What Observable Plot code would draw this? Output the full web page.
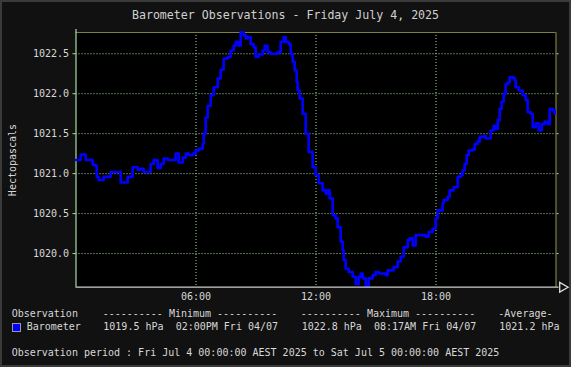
<!DOCTYPE html>
<html>
<head>
<meta charset="utf-8">
<script src="https://cdn.jsdelivr.net/npm/d3@7"></script>
<script src="https://cdn.jsdelivr.net/npm/@observablehq/plot@0.6"></script>
<style>
  html, body { margin: 0; padding: 0; background: #111; }
  #wrap { position: relative; width: 571px; height: 367px; background: #111;
          box-shadow: inset 0 0 0 2px #3a3a3a; overflow: hidden;
          font-family: "DejaVu Sans Mono", monospace; color: #d8d8d8; }
  #wrap svg { position: absolute; left: 0; top: 0; }
  .t { position: absolute; white-space: pre; font-size: 10px; line-height: 12px; }
  #title { position: absolute; left: 0; width: 571px; text-align: center; top: 8px;
           font-size: 11.6px; line-height: 14px; color: #d0d0d0; white-space: pre; font-weight: 500; }
  #ylab { position: absolute; left: 13.3px; top: 159.5px; font-size: 10px; line-height: 12px;
          transform: translate(-50%, -50%) rotate(-90deg); white-space: pre; }
  #swatch { position: absolute; left: 12px; top: 322.5px; width: 7px; height: 7px;
            background: #0000ff; border: 1px solid #9a9a9a; }
</style>
</head>
<body>
<div id="wrap"></div>
<script>
// ---- data (minutes since midnight, hPa) ----
const minutes = [0,14,29,44,50,59,62,68,83,104,128,134,149,155,170,185,194,203,218,224,233,245,254,263,275,284,299,308,320,329,338,350,359,368,380,383,389,395,404,413,425,434,443,455,464,473,479,488,494,503,509,515,524,533,539,548,560,566,575,584,593,605,614,623,629,638,644,650,656,662,665,671,680,689,698,710,719,728,740,749,755,761,770,779,785,794,800,803,809,818,830,839,848,854,860,869,878,890,899,908,920,929,935,944,953,965,974,983,995,1001,1010,1019,1028,1040,1049,1058,1070,1079,1085,1094,1100,1103,1115,1121,1133,1145,1154,1160,1166,1172,1178,1190,1196,1205,1211,1223,1229,1238,1244,1253,1259,1265,1271,1277,1283,1289,1295,1301,1310,1316,1319,1328,1340,1349,1355,1364,1370,1379,1388,1397,1406,1415,1421,1430,1436];
const pressure = [1021.17,1021.24,1021.17,1021.17,1021.11,1021.10,1020.96,1020.92,1020.96,1021.02,1021.02,1020.89,1020.89,1020.96,1021.08,1021.05,1021.06,1021.02,1021.02,1021.12,1021.17,1021.07,1021.12,1021.19,1021.17,1021.17,1021.25,1021.14,1021.20,1021.25,1021.23,1021.25,1021.29,1021.31,1021.37,1021.50,1021.70,1021.85,1021.98,1022.08,1022.19,1022.30,1022.44,1022.46,1022.54,1022.60,1022.65,1022.60,1022.77,1022.73,1022.69,1022.71,1022.62,1022.58,1022.46,1022.49,1022.54,1022.60,1022.52,1022.50,1022.50,1022.52,1022.65,1022.71,1022.65,1022.62,1022.50,1022.40,1022.29,1022.15,1022.04,1021.94,1021.75,1021.50,1021.27,1021.08,1020.98,1020.88,1020.79,1020.75,1020.79,1020.69,1020.48,1020.44,1020.33,1020.15,1020.04,1019.92,1019.81,1019.77,1019.71,1019.62,1019.71,1019.75,1019.69,1019.59,1019.69,1019.73,1019.77,1019.75,1019.75,1019.73,1019.79,1019.79,1019.83,1019.90,1019.96,1020.08,1020.17,1020.19,1020.10,1020.23,1020.23,1020.23,1020.21,1020.27,1020.31,1020.44,1020.54,1020.54,1020.63,1020.67,1020.71,1020.79,1020.83,1020.96,1020.98,1021.04,1021.12,1021.23,1021.29,1021.30,1021.37,1021.40,1021.46,1021.47,1021.44,1021.44,1021.54,1021.60,1021.56,1021.67,1021.81,1021.90,1022.00,1022.12,1022.14,1022.21,1022.20,1022.17,1022.08,1022.04,1021.98,1021.92,1021.77,1021.75,1021.58,1021.63,1021.54,1021.62,1021.65,1021.62,1021.81,1021.79,1021.75];

const xTickValues = [360, 720, 1080];
const xTickLabels = ["06:00", "12:00", "18:00"];
const yTickValues = [1020.0, 1020.5, 1021.0, 1021.5, 1022.0, 1022.5];
const xDomain = [0, 1440];
const yDomain = [1019.579, 1022.766];

const titleText = "Barometer Observations - Friday July 4, 2025";
const yLabelText = "Hectopascals";
const seriesName = "Barometer";
const headerLabels = ["Observation", "---------- Minimum ----------", "---------- Maximum ----------", "-Average-"];
const minValue = "1019.5 hPa", minTime = "02:00PM Fri 04/07";
const maxValue = "1022.8 hPa", maxTime = "08:17AM Fri 04/07";
const avgValue = "1021.2 hPa";
const periodText = "Observation period : Fri Jul 4 00:00:00 AEST 2025 to Sat Jul 5 00:00:00 AEST 2025";

const data = minutes.map((t, i) => ({t, p: pressure[i]}));

const green = "#a8dca0";
const olive = "#7f8040";
const font = "DejaVu Sans Mono";

const chart = Plot.plot({
  width: 571,
  height: 305,
  marginTop: 32,
  marginBottom: 18.3,
  marginLeft: 75.5,
  marginRight: 15.5,
  style: {background: "transparent", fontFamily: font, fontSize: "10px", color: "#d8d8d8", overflow: "visible"},
  x: {domain: xDomain},
  y: {domain: yDomain},
  marks: [
    Plot.frame({fill: "black", stroke: null}),
    Plot.gridY(yTickValues, {stroke: green, strokeOpacity: 1, strokeWidth: 1, strokeDasharray: "1,2"}),
    Plot.gridX(xTickValues, {stroke: green, strokeOpacity: 1, strokeWidth: 1, strokeDasharray: "1,2"}),
    Plot.ruleY([yDomain[1]], {stroke: olive, strokeWidth: 1.2}),
    Plot.ruleX([xDomain[1]], {stroke: olive, strokeWidth: 1.2}),
    Plot.ruleX([xDomain[0]], {stroke: green, strokeWidth: 1.2, insetTop: -3}),
    Plot.line(data, {x: "t", y: "p", curve: "step-after", stroke: "#0000ff", strokeWidth: 2.6}),
    Plot.axisY(yTickValues, {anchor: "left", tickSize: 3, tickPadding: 4, stroke: green, fill: "#d8d8d8",
      tickFormat: d3.format(".1f"), fontSize: 10, label: null}),
    Plot.axisY(yTickValues, {anchor: "right", tickSize: 2, stroke: green, tickFormat: () => "", label: null}),
    Plot.axisX(xTickValues, {anchor: "bottom", tickSize: 0, tickPadding: 6, fill: "#d8d8d8",
      tickFormat: (d) => xTickLabels[xTickValues.indexOf(d)], fontSize: 10, label: null}),
    Plot.ruleY([yDomain[0]], {stroke: "#cfcfcf", strokeWidth: 1.3, insetRight: -3}),
    Plot.dot([xDomain[1]], {x: (d) => d, y: () => yDomain[0], dx: 6.5, symbol: "triangle", rotate: 90,
      r: 3.6, fill: "#111", stroke: "#e0e0e0", strokeWidth: 1.3})
  ]
});

const wrap = document.getElementById("wrap");
wrap.appendChild(chart);

function addText(txt, left, cy, cls = "t") {
  const d = document.createElement("div");
  d.className = cls;
  d.textContent = txt;
  d.style.left = left + "px";
  d.style.top = (cy - 6.3) + "px";
  wrap.appendChild(d);
  return d;
}

const title = document.createElement("div");
title.id = "title";
title.textContent = titleText;
wrap.appendChild(title);

const yl = document.createElement("div");
yl.id = "ylab";
yl.textContent = yLabelText;
wrap.appendChild(yl);

const headerX = [11.7, 102.7, 300.7, 498.3];
headerLabels.forEach((h, i) => addText(h, headerX[i], 314.7));

const sw = document.createElement("div");
sw.id = "swatch";
wrap.appendChild(sw);

addText(seriesName, 26.7, 327);
addText(minValue, 103.3, 327);
addText(minTime, 175.7, 327);
addText(maxValue, 301.7, 327);
addText(maxTime, 374, 327);
addText(avgValue, 499.3, 327);
addText(periodText, 11.7, 353.3);
</script>
</body>
</html>
